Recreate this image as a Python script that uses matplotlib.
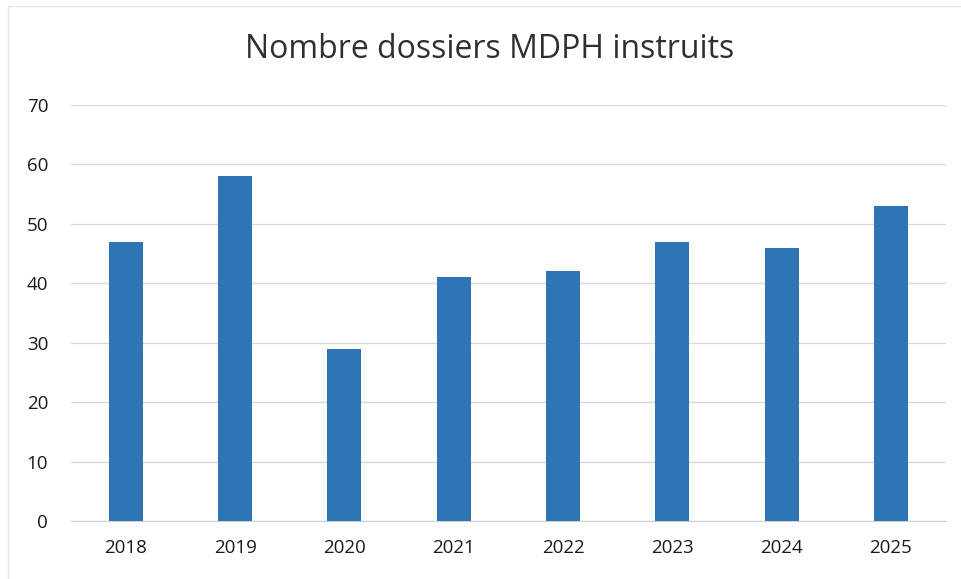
import matplotlib
matplotlib.use("Agg")
import matplotlib.pyplot as plt
from matplotlib.patches import Rectangle

# Data
years = ["2018", "2019", "2020", "2021", "2022", "2023", "2024", "2025"]
dossiers = [47, 58, 29, 41, 42, 47, 46, 53]
y_ticks = [0, 10, 20, 30, 40, 50, 60, 70]

plt.rcParams["font.family"] = ["Open Sans", "DejaVu Sans"]

fig = plt.figure(figsize=(9.61, 5.79), dpi=100)
ax = fig.add_axes([0.074, 0.1, 0.91, 0.7187])

# faint outer frame of the chart box
fig.patches.append(Rectangle((0.008, -0.01), 1.0, 1.0, transform=fig.transFigure,
                             fill=False, edgecolor="#e6e6e6", linewidth=1))

x = range(len(years))
ax.bar(x, dossiers, width=0.31, color="#2E75B6", zorder=3)

ax.set_xlim(-0.5, len(years) - 0.5)
ax.set_ylim(0, 70)
ax.set_yticks(y_ticks)
ax.set_xticks(list(x))
ax.set_xticklabels(years)

ax.grid(axis="y", color="#d9d9d9", linewidth=1, zorder=0)
for side in ["top", "right", "left"]:
    ax.spines[side].set_visible(False)
ax.spines["bottom"].set_color("#d0d0d0")
ax.tick_params(axis="both", length=0, labelsize=13.5, colors="#1a1a1a")
ax.tick_params(axis="y", pad=16.5)
ax.tick_params(axis="x", pad=13)

fig.text(0.51, 0.915, "Nombre dossiers MDPH instruits", ha="center", va="center",
         fontsize=23, color="#303030")

fig.savefig("out.png", dpi=100)
